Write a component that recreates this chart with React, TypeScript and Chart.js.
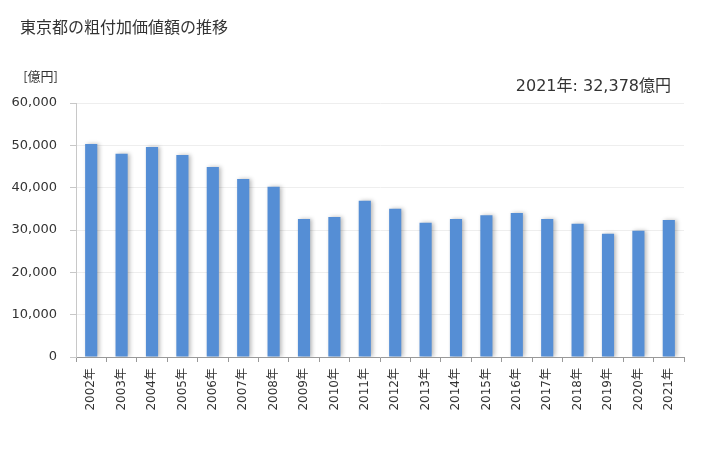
import React, { useEffect, useRef } from "react";
import { Chart, registerables } from "chart.js";

Chart.register(...registerables);

const title = "東京都の粗付加価値額の推移";
const unitLabel = "[億円]";
const annotation = "2021年: 32,378億円";
const years = [
  "2002年", "2003年", "2004年", "2005年", "2006年", "2007年", "2008年", "2009年", "2010年", "2011年",
  "2012年", "2013年", "2014年", "2015年", "2016年", "2017年", "2018年", "2019年", "2020年", "2021年",
];
const values = [
  50300, 48000, 49600, 47700, 44900, 42050, 40200, 32600, 33100, 36900,
  35000, 31700, 32600, 33500, 34000, 32600, 31500, 29100, 29800, 32378,
];
const yTicks = [0, 10000, 20000, 30000, 40000, 50000, 60000];

const FONT = "'DejaVu Sans', 'Noto Sans CJK JP', sans-serif";

const shadowPlugin = {
  id: "barShadow",
  beforeDatasetDraw(chart: any) {
    const ctx = chart.ctx;
    ctx.save();
    ctx.shadowColor = "rgba(0,0,0,0.28)";
    ctx.shadowBlur = 4;
    ctx.shadowOffsetX = 2;
    ctx.shadowOffsetY = 0;
  },
  afterDatasetDraw(chart: any) {
    chart.ctx.restore();
  },
};

const textPlugin = {
  id: "texts",
  afterDraw(chart: any) {
    const ctx = chart.ctx;
    ctx.save();
    ctx.fillStyle = "#333";
    ctx.textBaseline = "middle";
    ctx.textAlign = "left";
    ctx.font = `16px 'Noto Sans CJK JP', sans-serif`;
    ctx.fillText(title, 20, 27);
    ctx.font = `13px 'Noto Sans CJK JP', sans-serif`;
    ctx.textAlign = "right";
    ctx.fillText(unitLabel, 58, 76);
    ctx.fillStyle = "#333";
    ctx.font = `16px ${FONT}`;
    ctx.fillText(annotation, 671, 87);
    ctx.restore();
  },
};

export default function App() {
  const ref = useRef<HTMLCanvasElement>(null);
  useEffect(() => {
    if (!ref.current) return;
    const chart = new Chart(ref.current, {
      type: "bar",
      data: {
        labels: years,
        datasets: [
          {
            data: values,
            backgroundColor: "#558ED5",
            borderWidth: 0,
            barPercentage: 0.4,
            categoryPercentage: 1.0,
          },
        ],
      },
      options: {
        animation: false,
        responsive: true,
        maintainAspectRatio: false,
        layout: { padding: { top: 103, right: 44, left: 0, bottom: 0 } },
        plugins: {
          legend: { display: false },
          title: { display: false },
          tooltip: { enabled: false },
        },
        scales: {
          x: {
            offset: true,
            grid: {
              offset: true,
              drawOnChartArea: false,
              drawTicks: true,
              tickLength: 5,
              color: "#999",
            },
            border: { color: "#999" },
            ticks: {
              minRotation: 90,
              maxRotation: 90,
              autoSkip: false,
              color: "#333",
              font: { family: FONT, size: 12 },
              padding: 6,
            },
            afterFit(scale: any) {
              scale.height = 93;
            },
          },
          y: {
            min: 0,
            max: 60000,
            afterBuildTicks(scale: any) {
              scale.ticks = yTicks.map((v) => ({ value: v }));
            },
            grid: {
              color: "#eeeeee",
              tickColor: "#c8c8c8",
              tickLength: 6,
            },
            border: { color: "#c8c8c8" },
            ticks: {
              color: "#333",
              font: { family: FONT, size: 13 },
              padding: 13,
              callback: (v: any) => Number(v).toLocaleString("en-US"),
            },
            afterFit(scale: any) {
              scale.width = 76;
            },
          },
        },
      },
      plugins: [shadowPlugin, textPlugin],
    });
    return () => chart.destroy();
  }, []);
  return (
    <div style={{ position: "fixed", left: 0, top: 0, width: 728, height: 450, background: "#fff" }}>
      <canvas ref={ref} />
    </div>
  );
}
